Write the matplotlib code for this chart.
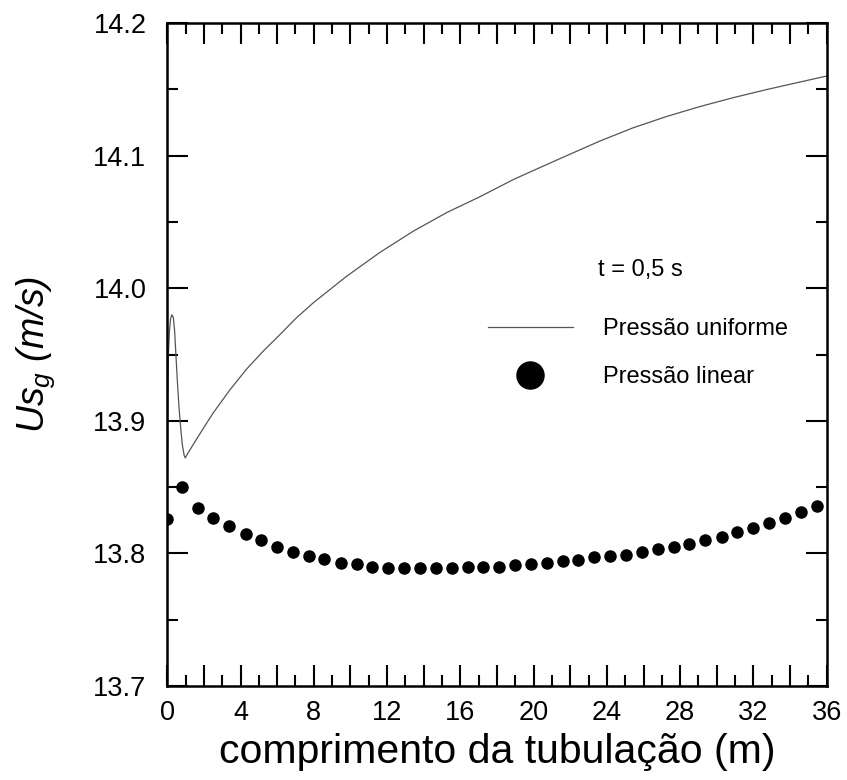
import matplotlib
matplotlib.use("Agg")
import matplotlib.pyplot as plt
from matplotlib.ticker import MultipleLocator, FuncFormatter
from matplotlib.lines import Line2D

plt.rcParams['font.family'] = ['Liberation Sans', 'DejaVu Sans']
plt.rcParams['mathtext.fontset'] = 'custom'
plt.rcParams['mathtext.it'] = 'Liberation Sans:italic'
plt.rcParams['mathtext.rm'] = 'Liberation Sans'

# Pressão uniforme (linha contínua)
x_unif = [0.0, 0.02, 0.06, 0.12, 0.18, 0.25, 0.33, 0.40, 0.47, 0.55, 0.63, 0.73, 0.82, 0.92, 0.98,
          1.1, 1.5, 2.0, 2.51, 3.4, 4.33, 5.2, 6.15, 7.0, 7.97, 9.79, 11.61, 13.43, 15.25,
          17.07, 18.9, 20.35, 21.81, 23.62, 25.44, 27.26, 29.08, 30.90, 32.72, 34.54, 36.0]
y_unif = [13.84, 13.90, 13.950, 13.968, 13.977, 13.980, 13.978, 13.968, 13.950, 13.930, 13.912, 13.895,
          13.882, 13.874, 13.872, 13.875, 13.884, 13.895, 13.906, 13.923, 13.939, 13.952, 13.965,
          13.977, 13.989, 14.009, 14.027, 14.043, 14.057, 14.069, 14.082, 14.091, 14.100, 14.111,
          14.121, 14.1295, 14.137, 14.1437, 14.1498, 14.1555, 14.160]

# Pressão linear (pontos)
x_lin = [0.0, 0.80, 1.66, 2.52, 3.39, 4.29, 5.14, 6.01, 6.88, 7.74, 8.58, 9.47, 10.35,
         11.19, 12.07, 12.94, 13.80, 14.67, 15.55, 16.41, 17.25, 18.11, 18.99, 19.84,
         20.72, 21.59, 22.44, 23.32, 24.18, 25.05, 25.90, 26.78, 27.65, 28.50, 29.37,
         30.26, 31.10, 31.99, 32.86, 33.72, 34.59, 35.46]
y_lin = [13.826, 13.850, 13.834, 13.827, 13.821, 13.815, 13.810, 13.805, 13.801, 13.798,
         13.796, 13.793, 13.792, 13.790, 13.789, 13.789, 13.789, 13.789, 13.789, 13.790,
         13.790, 13.790, 13.791, 13.792, 13.793, 13.794, 13.795, 13.797, 13.798, 13.799,
         13.801, 13.803, 13.805, 13.807, 13.810, 13.812, 13.816, 13.819, 13.823, 13.827,
         13.831, 13.836]

fig = plt.figure(figsize=(8.47, 7.8), dpi=100)
ax = fig.add_axes([0.1975, 0.1205, 0.7785, 0.85])

ax.plot(x_unif, y_unif, color="#555555", lw=0.9)
ax.plot(x_lin, y_lin, "o", color="black", ms=8, mec="black")

ax.set_xlim(0, 36)
ax.set_ylim(13.7, 14.2)

ax.xaxis.set_major_locator(MultipleLocator(2))
ax.xaxis.set_minor_locator(MultipleLocator(1))
ax.xaxis.set_major_formatter(FuncFormatter(lambda v, p: f"{v:.0f}" if round(v) % 4 == 0 else ""))
ax.yaxis.set_major_locator(MultipleLocator(0.1))
ax.yaxis.set_minor_locator(MultipleLocator(0.05))
ax.yaxis.set_major_formatter(FuncFormatter(lambda v, p: f"{v:.1f}"))

ax.tick_params(which="both", direction="in", top=True, right=True, width=1.5, labelsize=19.5)
ax.tick_params(which="major", length=15)
ax.tick_params(which="minor", length=8)
ax.tick_params(axis="x", which="major", pad=10)
ax.tick_params(axis="y", which="major", pad=15)
for s in ax.spines.values():
    s.set_linewidth(1.8)

ax.set_xlabel("comprimento da tubulação (m)", fontsize=29.5, labelpad=5)
ax.set_ylabel(r"$Us_g$ (m/s)", fontsize=27, style="italic", labelpad=26)

ax.text(23.5, 14.014, "t = 0,5 s", fontsize=17, va="center", ha="left")

handles = [Line2D([], [], color="#555555", lw=0.9),
           Line2D([], [], ls="", marker="o", color="black", ms=19.5)]
ax.legend(handles, ["Pressão uniforme", "Pressão linear"], loc="center left",
          bbox_to_anchor=(0.486, 0.502), frameon=False, fontsize=17,
          borderpad=0, borderaxespad=0,
          handlelength=3.6, handletextpad=1.27, labelspacing=1.1)

fig.savefig("out.png", dpi=100)
